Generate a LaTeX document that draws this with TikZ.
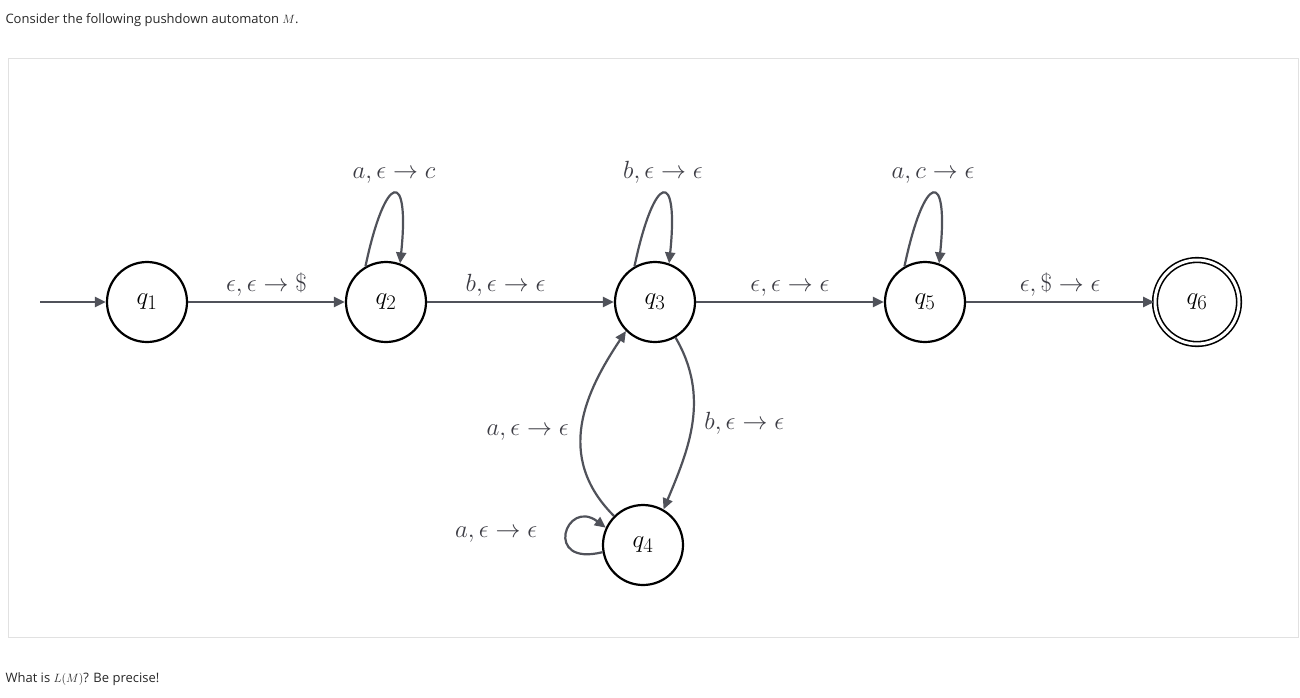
\documentclass[tikz,border=0pt]{standalone}
\usepackage{fontspec}
\setsansfont{Open Sans}
\usetikzlibrary{arrows.meta}
\begin{document}
\begin{tikzpicture}[x=1pt,y=-1pt,
  st/.style={circle,draw=black,line width=2.2pt,minimum size=80pt,inner sep=0pt,font=\fontsize{30}{30}\selectfont},
  fin/.style={st,double,double distance=3pt,line width=1.6pt,minimum size=84pt},
  ed/.style={draw={rgb,255:red,80;green,82;blue,90},line width=2.2pt,-{Triangle[length=11pt,width=10pt]}},
  lb/.style={font=\fontsize{27}{27}\selectfont,text={rgb,255:red,60;green,60;blue,68}},
  tx/.style={font=\sffamily\fontsize{13}{13}\selectfont,anchor=west,text={rgb,255:red,40;green,40;blue,40}}]
\useasboundingbox[fill=white] (0,0) rectangle (1300,697);
\draw[draw={rgb,255:red,225;green,225;blue,225},line width=1pt] (8,58) rectangle (1298,637);
\node[tx] (t1) at (2,20) {Consider the following pushdown automaton $M$.};
\node[tx] (t2) at (2,679) {What is $L(M)$? Be precise!};
\node[st] (q1) at (147,302) {$q_1$};
\node[st] (q2) at (386,302) {$q_2$};
\node[st] (q3) at (655,302) {$q_3$};
\node[st] (q4) at (643,545) {$q_4$};
\node[st] (q5) at (925,302) {$q_5$};
\node[fin] (q6) at (1197,302) {$q_6$};
\coordinate (s) at (40,302);
\path[ed] (s) -- (q1);
\path[ed] (q1) -- node[lb,above=1pt]{$\epsilon,\epsilon\rightarrow\$$} (q2);
\path[ed] (q2) -- node[lb,above=1pt,pos=0.42]{$b,\epsilon\rightarrow\epsilon$} (q3);
\path[ed] (q3) -- node[lb,above=1pt]{$\epsilon,\epsilon\rightarrow\epsilon$} (q5);
\path[ed] (q5) -- node[lb,above=1pt]{$\epsilon,\$\rightarrow\epsilon$} (q6);
\path[ed] (q2.120) .. controls +(20,-95) and +(10,-95) .. node[lb,above=6pt,pos=0.5]{$a,\epsilon\rightarrow c$} (q2.70);
\path[ed] (q3.120) .. controls +(20,-95) and +(10,-95) .. node[lb,above=6pt,pos=0.5]{$b,\epsilon\rightarrow\epsilon$} (q3.70);
\path[ed] (q5.120) .. controls +(20,-95) and +(10,-95) .. node[lb,above=6pt,pos=0.5]{$a,c\rightarrow\epsilon$} (q5.70);
\path[ed] (q4.135) .. controls +(-60,-60) and +(-40,60) .. node[lb,left=8pt,pos=0.45]{$a,\epsilon\rightarrow\epsilon$} (q3.225);
\path[ed] (q3.300) .. controls +(35,60) and +(25,-60) .. node[lb,right=8pt,pos=0.5]{$b,\epsilon\rightarrow\epsilon$} (q4.60);
\path[ed] (q4.190) .. controls +(-60,15) and +(-40,-30) .. node[lb,left=25pt,pos=0.5]{$a,\epsilon\rightarrow\epsilon$} (q4.155);
\end{tikzpicture}
\end{document}
